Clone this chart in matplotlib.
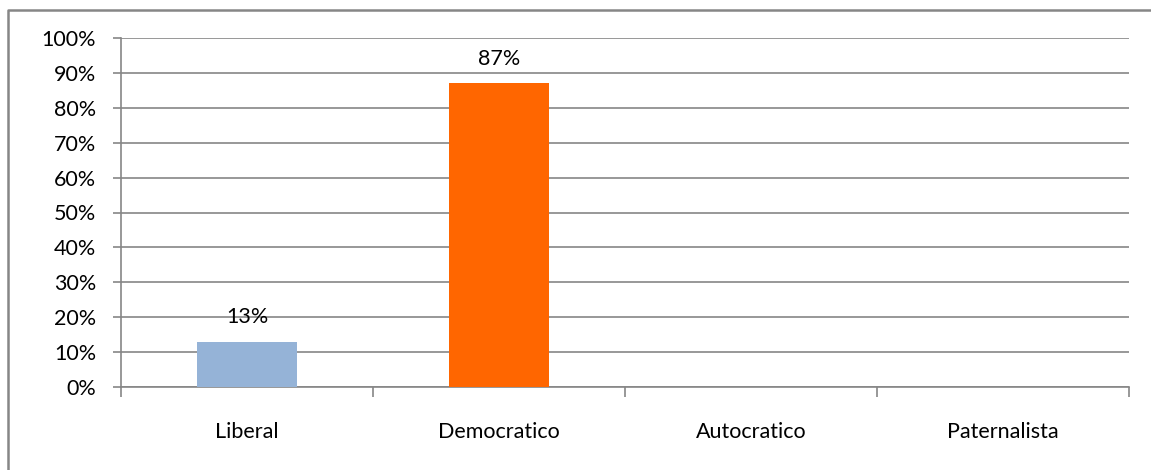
import matplotlib.pyplot as plt
from matplotlib.lines import Line2D
from matplotlib.ticker import PercentFormatter

categories = ["Liberal", "Democratico", "Autocratico", "Paternalista"]
values = [0.13, 0.87, 0.0, 0.0]
colors = ["#95B3D7", "#FF6600", "#FF6600", "#FF6600"]
y_ticks = [i / 10 for i in range(11)]

plt.rcParams["font.family"] = ["Lato", "DejaVu Sans"]

W, H = 1151, 470
fig = plt.figure(figsize=(W / 100, H / 100), dpi=100)
ax = fig.add_axes([121 / W, 1 - 387 / H, (1129 - 121) / W, (387 - 38) / H])

grid_col = "#868686"
fs = 15.5
centers = [i + 0.5 for i in range(len(categories))]
ax.bar(centers, values, width=0.4, color=colors, zorder=3)

for x, v in zip(centers, values):
    if v > 0:
        ax.text(x, v + 0.07, f"{round(v * 100)}%", ha="center", va="center",
                fontsize=fs, color="#000000", zorder=4)

ax.set_xlim(0, len(categories))
ax.set_ylim(0, 1)
ax.set_yticks(y_ticks)
ax.yaxis.set_major_formatter(PercentFormatter(1.0, decimals=0))
ax.yaxis.grid(True, color=grid_col, linewidth=1.2, zorder=0)

ax.set_xticks(range(len(categories) + 1))
ax.set_xticklabels([])
ax.set_xticks(centers, minor=True)
ax.set_xticklabels(categories, minor=True)
ax.tick_params(axis="x", which="minor", length=0, pad=25, labelsize=fs)
ax.tick_params(axis="x", which="major", length=7, color=grid_col, width=1.2)
ax.tick_params(axis="y", length=6, color=grid_col, width=1.2, labelsize=fs, pad=12)

for s in ["top", "right"]:
    ax.spines[s].set_visible(False)
for s in ["left", "bottom"]:
    ax.spines[s].set_color(grid_col)
    ax.spines[s].set_linewidth(1.2)

# outer chart frame: only left and top edges are inside the picture
x0, y0 = 8 / W, 1 - 10 / H
fig.add_artist(Line2D([x0, x0, 1.0], [0.0, y0, y0], transform=fig.transFigure,
                      color=grid_col, linewidth=1.8))

fig.savefig("out.png", dpi=100)
